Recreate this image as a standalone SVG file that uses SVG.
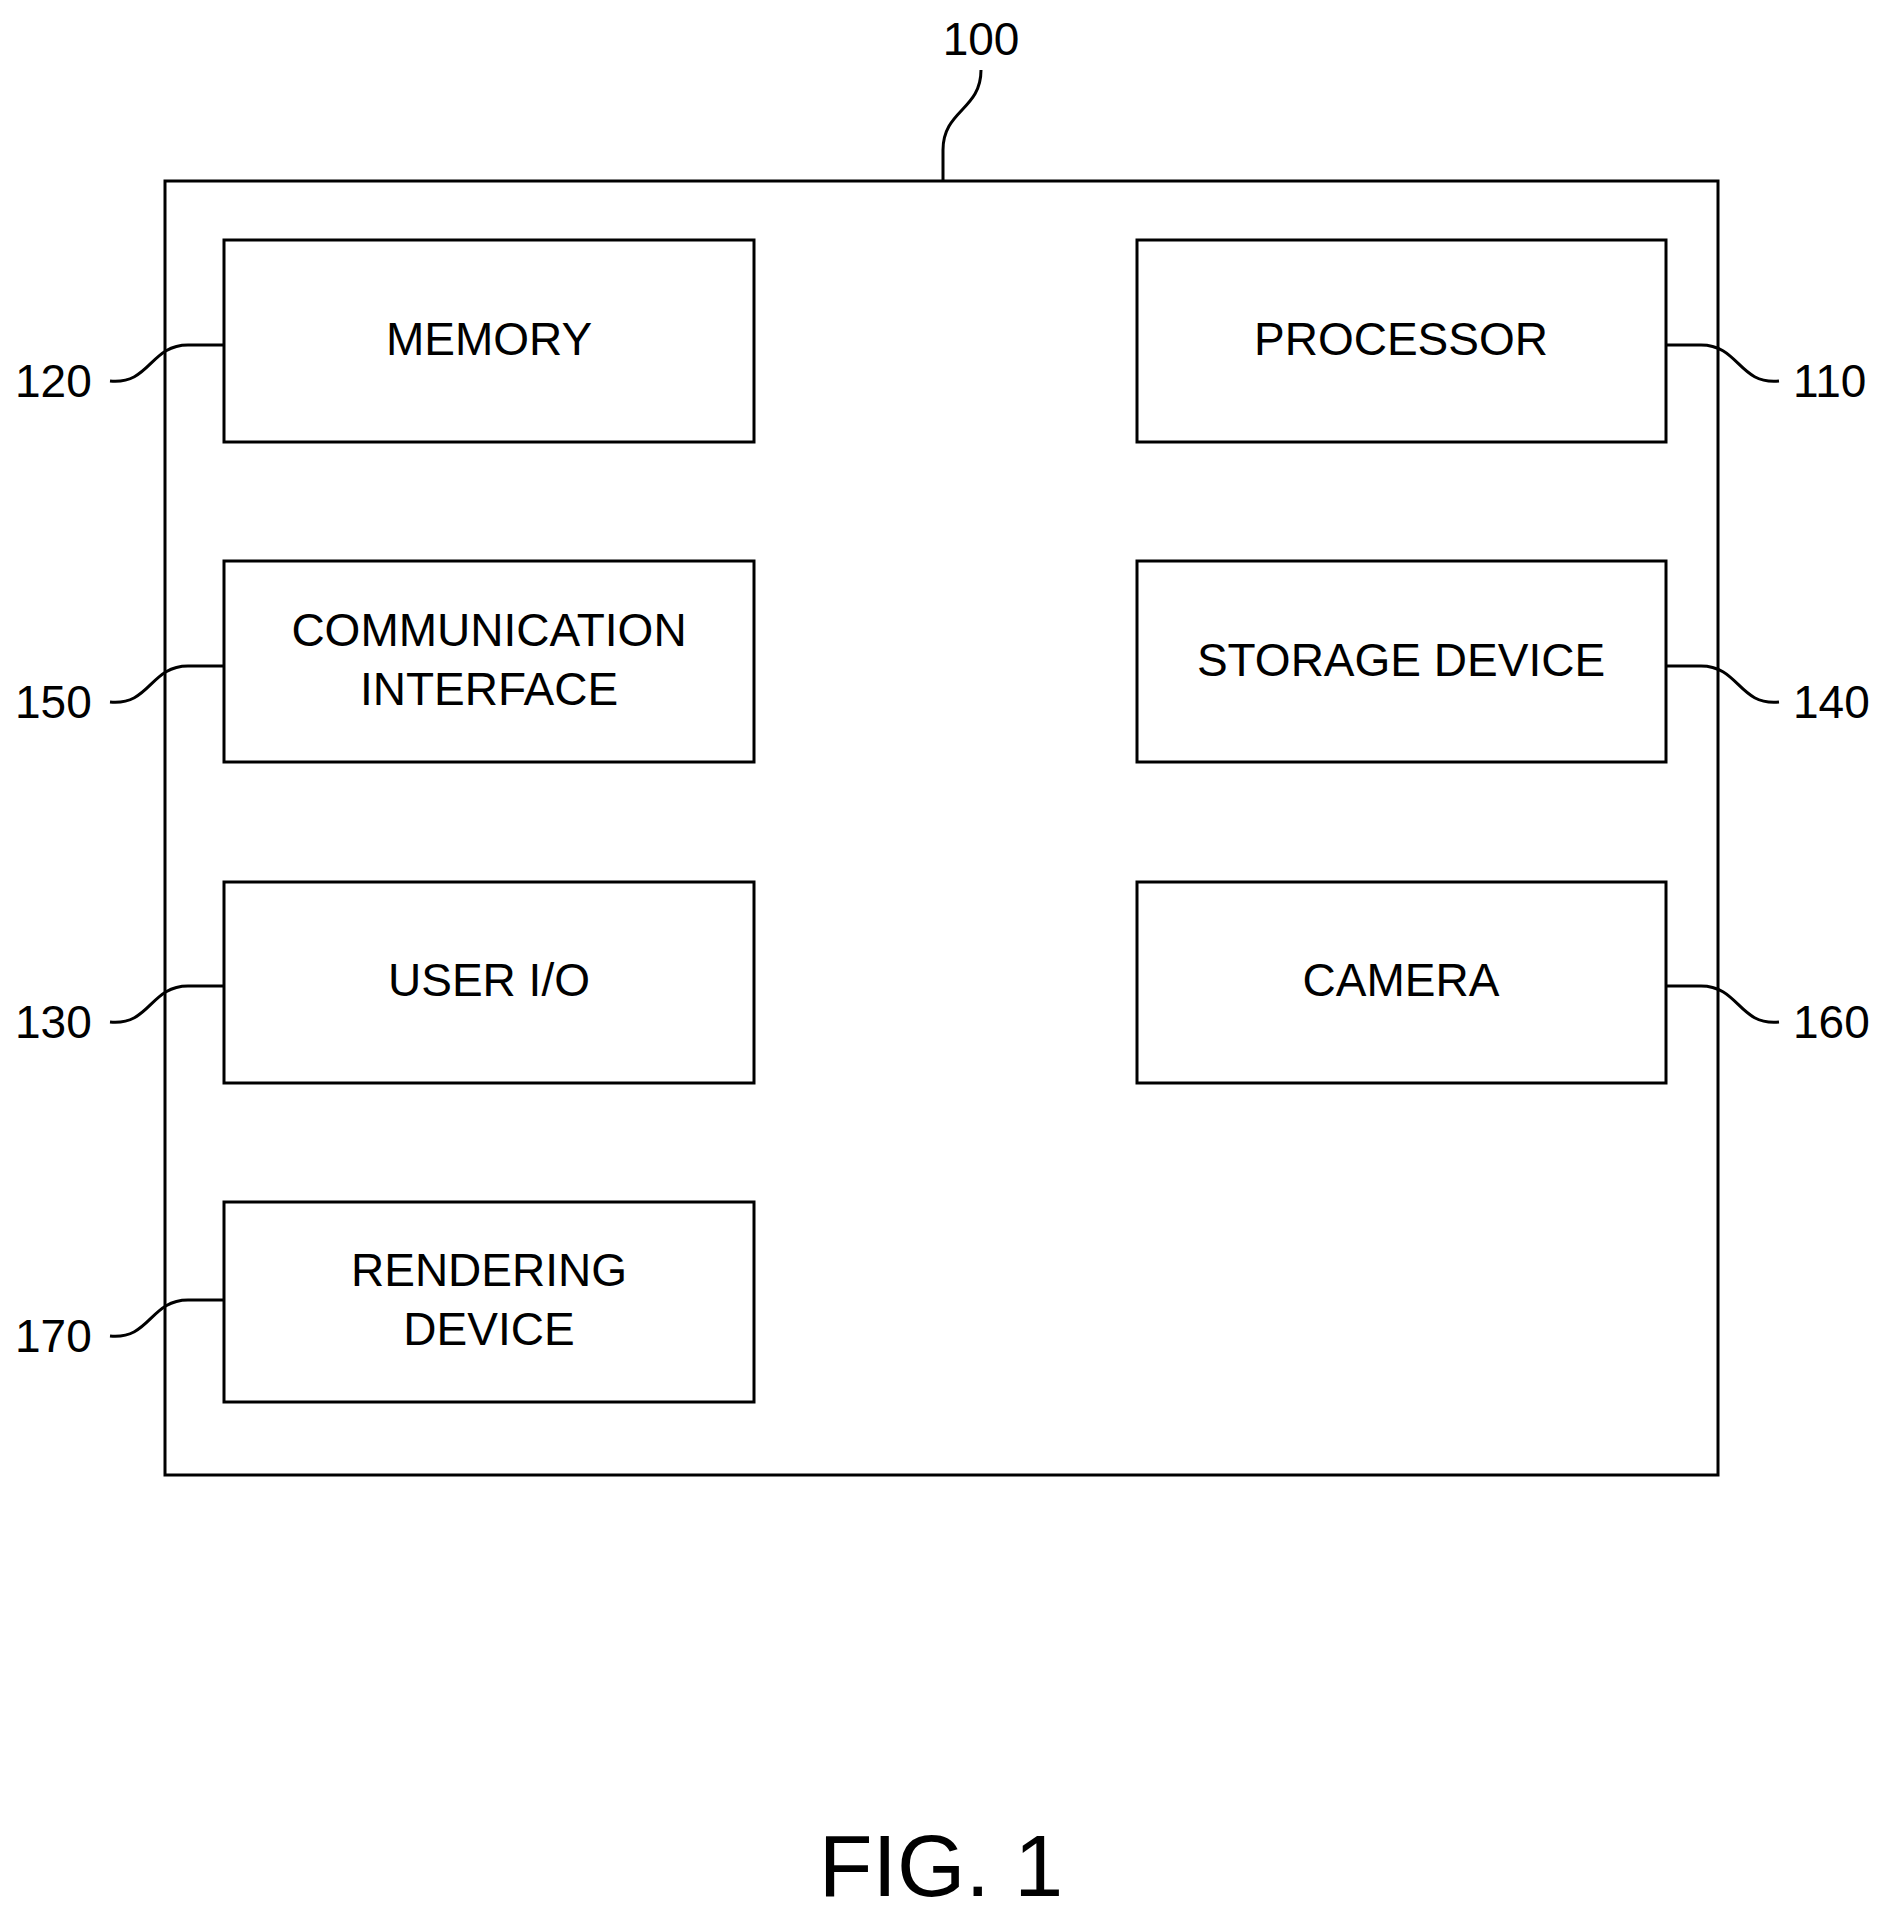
<svg xmlns="http://www.w3.org/2000/svg" width="1898" height="1928" viewBox="0 0 1898 1928">
<style>
rect{fill:#fff;stroke:#000;stroke-width:3}
path{fill:none;stroke:#000;stroke-width:3}
text{font-family:"Liberation Sans",Arial,sans-serif;font-size:46px;fill:#000}
.c{text-anchor:middle}
</style>
<rect x="0" y="0" width="1898" height="1928" style="stroke:none"/>
<g id="device100"><rect x="165" y="181" width="1553" height="1294"/></g>
<g id="memory"><rect x="224" y="240" width="530" height="202"/><text class="c" x="489" y="355">MEMORY</text></g>
<g id="processor"><rect x="1137" y="240" width="529" height="202"/><text class="c" x="1401" y="355">PROCESSOR</text></g>
<g id="comm"><rect x="224" y="561" width="530" height="201"/><text class="c" x="489" y="646">COMMUNICATION</text><text class="c" x="489" y="705">INTERFACE</text></g>
<g id="storage"><rect x="1137" y="561" width="529" height="201"/><text class="c" x="1401" y="676">STORAGE DEVICE</text></g>
<g id="userio"><rect x="224" y="882" width="530" height="201"/><text class="c" x="489" y="996">USER I/O</text></g>
<g id="camera"><rect x="1137" y="882" width="529" height="201"/><text class="c" x="1401" y="996">CAMERA</text></g>
<g id="rendering"><rect x="224" y="1202" width="530" height="200"/><text class="c" x="489" y="1286">RENDERING</text><text class="c" x="489" y="1345">DEVICE</text></g>
<g id="connectors">
<path d="M981,70 C981,110 943,110 943,150 L943,181"/>
<path d="M110,381 C150,385 150,345 188,345 L224,345"/>
<path d="M110,702 C150,706 150,666 188,666 L224,666"/>
<path d="M110,1022 C150,1026 150,986 188,986 L224,986"/>
<path d="M110,1336 C150,1340 150,1300 188,1300 L224,1300"/>
<path d="M1779,381 C1739,385 1739,345 1701,345 L1666,345"/>
<path d="M1779,702 C1739,706 1739,666 1701,666 L1666,666"/>
<path d="M1779,1022 C1739,1026 1739,986 1701,986 L1666,986"/>
</g>
<g id="labels">
<text class="c" x="981" y="55">100</text>
<text x="15" y="397">120</text>
<text x="15" y="718">150</text>
<text x="15" y="1038">130</text>
<text x="15" y="1352">170</text>
<text x="1793" y="397">110</text>
<text x="1793" y="718">140</text>
<text x="1793" y="1038">160</text>
<text class="c" x="941" y="1896" style="font-size:88px">FIG. 1</text>
</g>
</svg>
